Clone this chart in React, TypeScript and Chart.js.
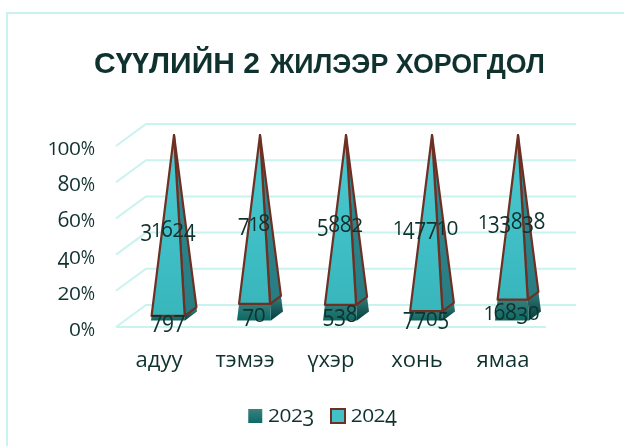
import React, { useEffect, useRef } from "react";
import { Chart, BarController, registerables } from "chart.js";

Chart.register(...registerables);

const categories = ["адуу", "тэмээ", "үхэр", "хонь", "ямаа"];
const series2023 = [797, 70, 538, 7705, 16830];
const series2024 = [31624, 718, 5882, 147710, 133838];
const seriesNames = ["2023", "2024"];
const titleLarge = "СҮҮЛИЙН 2";
const titleSmall = "ЖИЛЭЭР ХОРОГДОЛ";

const rawSeries = [series2023, series2024];
const percentOf = (values: number[]) =>
  values.map((v, i) => (v / (series2023[i] + series2024[i])) * 100);

const INK = "#10322f";
const GRID = "#c8f3ef";
const OUTLINE = "#6f3024";
const FONT = '"Open Sans", sans-serif';
const DEPTH_X = 30;
const DEPTH_Y = 22;
const BASE_W = 34;
const BASE_DX = 12;
const BASE_DY = 8.8;

// Old-style figures: 0 1 2 sit at x-height, 3 4 5 7 9 descend, 6 8 ascend.
function drawOldStyle(
  ctx: CanvasRenderingContext2D,
  text: string,
  x: number,
  y: number,
  align: string,
  size: number,
  stretch = 1
) {
  ctx.save();
  ctx.font = `${size}px ${FONT}`;
  ctx.fillStyle = INK;
  ctx.textAlign = "center";
  ctx.textBaseline = "alphabetic";
  const advance = (c: string) => size * (c === "1" ? 0.42 : c === "%" ? 0.65 : 0.52);
  const total = [...text].reduce((s, c) => s + advance(c), 0);
  let cx = align === "right" ? x - total : align === "center" ? x - total / 2 : x;
  for (const c of text) {
    const adv = advance(c);
    const sx = c === "%" ? adv / ctx.measureText(c).width : c === "1" ? 0.9 : 0.95;
    ctx.save();
    if ("012".includes(c)) {
      ctx.translate(cx + adv / 2, y);
      ctx.scale(sx, 0.81 * stretch);
    } else if ("34579".includes(c)) {
      ctx.translate(cx + adv / 2, y + size * 0.18);
      ctx.scale(sx, 1 * stretch);
    } else {
      ctx.translate(cx + adv / 2, y);
      ctx.scale(sx, c === "%" ? 0.9 : 0.97 * stretch);
    }
    ctx.fillText(c, 0, 0);
    ctx.restore();
    cx += adv;
  }
  ctx.restore();
}

class PyramidController extends BarController {
  static id = "pyramid";
  static defaults = { ...BarController.defaults };
  static overrides = BarController.overrides;

  draw() {
    if (this.index !== 0) return;
    const chart = this.chart as any;
    [0, 1].forEach((di) => {
      const meta = chart.getDatasetMeta(di);
      meta.data.forEach((bar: any) => paintSegment(chart, bar, di));
    });
  }
}

function paintSegment(chart: any, bar: any, di: number) {
  const ctx: CanvasRenderingContext2D = chart.ctx;
  const yScale = chart.scales.y;
  const { x, y, base } = bar.getProps(["x", "y", "base"], true);
  const corner = (py: number) => {
    const s = 1 - yScale.getValueForPixel(py) / 100;
    const cx = x + DEPTH_X / 2;
    const cy = py - DEPTH_Y / 2;
    return {
      fl: [cx + s * (-BASE_W / 2 - BASE_DX / 2), cy + (s * BASE_DY) / 2],
      fr: [cx + s * (BASE_W / 2 - BASE_DX / 2), cy + (s * BASE_DY) / 2],
      br: [cx + s * (BASE_W / 2 + BASE_DX / 2), cy - (s * BASE_DY) / 2],
    };
  };
  const lo = corner(base);
  const hi = corner(y);
  const poly = (pts: number[][]) => {
    ctx.beginPath();
    pts.forEach((p, i) => (i ? ctx.lineTo(p[0], p[1]) : ctx.moveTo(p[0], p[1])));
    ctx.closePath();
  };
  const grad = (a: string, b: string) => {
    const g = ctx.createLinearGradient(0, y - DEPTH_Y / 2, 0, base - DEPTH_Y / 2 + 4);
    g.addColorStop(0, a);
    g.addColorStop(1, b);
    return g;
  };
  ctx.save();
  ctx.lineJoin = "round";
  if (di === 0) {
    poly([lo.fr, lo.br, hi.br, hi.fr]);
    ctx.fillStyle = grad("#2c7271", "#03403f");
    ctx.fill();
    poly([lo.fl, lo.fr, hi.fr, hi.fl]);
    ctx.fillStyle = grad("#3f8280", "#0c6a65");
    ctx.fill();
  } else {
    ctx.strokeStyle = OUTLINE;
    ctx.lineWidth = 2.2;
    poly([lo.fr, lo.br, hi.br, hi.fr]);
    ctx.fillStyle = grad("#2f8e95", "#277c82");
    ctx.fill();
    ctx.stroke();
    poly([lo.fl, lo.fr, hi.fr, hi.fl]);
    ctx.fillStyle = grad("#4ccbd4", "#38b6bc");
    ctx.fill();
    ctx.stroke();
  }
  ctx.restore();
}

Chart.register(PyramidController as any);

const decorPlugin = {
  id: "decor",
  beforeDatasetsDraw(chart: any) {
    const { ctx, chartArea, scales } = chart;
    ctx.save();
    ctx.strokeStyle = GRID;
    ctx.lineWidth = 2;
    ctx.beginPath();
    ctx.moveTo(7, 446);
    ctx.lineTo(7, 13);
    ctx.lineTo(624, 13);
    ctx.stroke();
    scales.y.ticks.forEach((t: any) => {
      const py = scales.y.getPixelForValue(t.value);
      ctx.beginPath();
      ctx.moveTo(chartArea.left, py);
      ctx.lineTo(chartArea.left + DEPTH_X, py - DEPTH_Y);
      ctx.lineTo(chartArea.right + DEPTH_X, py - DEPTH_Y);
      ctx.stroke();
    });
    ctx.beginPath();
    ctx.moveTo(chartArea.left, chartArea.bottom);
    ctx.lineTo(chartArea.right, chartArea.bottom);
    ctx.stroke();
    ctx.restore();
  },
  afterDraw(chart: any) {
    const { ctx, scales } = chart;
    ctx.save();
    ctx.fillStyle = INK;
    ctx.textBaseline = "alphabetic";
    ctx.textAlign = "left";
    ctx.font = 'bold 30px "Liberation Sans", Arial, sans-serif';
    ctx.fillText(titleLarge, 94, 73);
    ctx.font = 'bold 26.8px "Liberation Sans", Arial, sans-serif';
    ctx.fillText(titleSmall, 270, 73);
    ctx.restore();
    scales.y.ticks.forEach((t: any) => {
      const py = scales.y.getPixelForValue(t.value);
      drawOldStyle(ctx, t.value + "%", 95, py + 9, "right", 22);
    });
    [0, 1].forEach((di) => {
      chart.getDatasetMeta(di).data.forEach((bar: any, i: number) => {
        const { x, y, base } = bar.getProps(["x", "y", "base"], true);
        drawOldStyle(ctx, String(rawSeries[di][i]), x + 9, (y + base) / 2 + 3, "center", 22, 1.1);
      });
    });
    chart.legend.legendItems.forEach((item: any, i: number) => {
      const box = chart.legend.legendHitBoxes[i];
      drawOldStyle(ctx, item.text, box.left + 20, box.top + box.height / 2 + 6, "left", 22);
    });
  },
};

export default function App() {
  const ref = useRef<HTMLCanvasElement>(null);
  useEffect(() => {
    const chart = new Chart(ref.current as HTMLCanvasElement, {
      type: "pyramid" as any,
      data: {
        labels: categories,
        datasets: [
          { label: seriesNames[0], data: percentOf(series2023), backgroundColor: "#2a7572", clip: false },
          { label: seriesNames[1], data: percentOf(series2024), backgroundColor: "#43c1c8", borderColor: OUTLINE, clip: false },
        ],
      },
      plugins: [decorPlugin],
      options: {
        responsive: false,
        animation: false,
        layout: { padding: { top: 146, left: 25, right: 0, bottom: 10 } },
        scales: {
          x: {
            type: "category",
            stacked: true,
            offset: true,
            grid: { display: false },
            border: { display: false },
            ticks: { color: INK, font: { family: FONT, size: 22 }, padding: 13, maxRotation: 0 },
            afterFit: (s: any) => { s.height = 66; },
          },
          y: {
            type: "linear",
            stacked: true,
            min: 0,
            max: 100,
            grid: { display: false },
            border: { display: false },
            ticks: { stepSize: 20, color: "rgba(0,0,0,0)", font: { family: FONT, size: 20 } },
            afterFit: (s: any) => { s.width = 91; },
          },
          yRight: {
            type: "linear",
            position: "right",
            grid: { display: false },
            border: { display: false },
            ticks: { display: false },
            afterFit: (s: any) => { s.width = 78; },
          },
        },
        plugins: {
          title: { display: false },
          tooltip: { enabled: false },
          legend: {
            position: "bottom",
            labels: {
              color: "rgba(0,0,0,0)",
              font: { family: FONT, size: 20 },
              boxWidth: 14,
              boxHeight: 14,
              padding: 13,
              generateLabels: (c: any) => {
                const g = c.ctx.createLinearGradient(0, 408, 0, 423);
                g.addColorStop(0, "#3f8280");
                g.addColorStop(1, "#0c6a65");
                return [
                  { text: seriesNames[0], fillStyle: g, strokeStyle: g, lineWidth: 0, datasetIndex: 0, fontColor: "rgba(0,0,0,0)" },
                  { text: seriesNames[1], fillStyle: "#43c1c8", strokeStyle: OUTLINE, lineWidth: 2, datasetIndex: 1, fontColor: "rgba(0,0,0,0)" },
                ];
              },
            },
          },
        },
      } as any,
    });
    return () => chart.destroy();
  }, []);
  return (
    <canvas
      ref={ref}
      width={624}
      height={446}
      style={{ position: "fixed", left: 0, top: 0, width: 624, height: 446, display: "block" }}
    />
  );
}
